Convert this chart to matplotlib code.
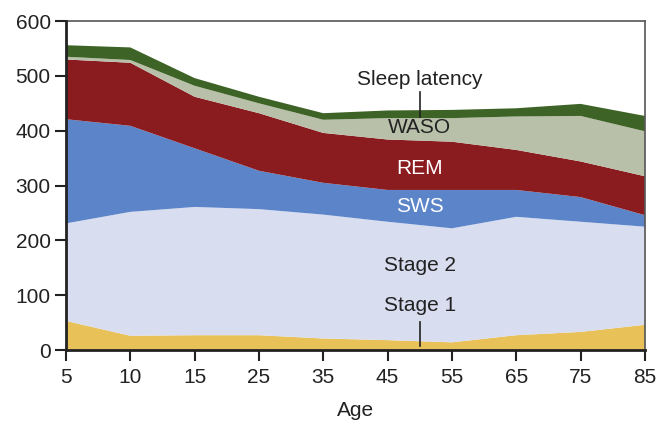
import matplotlib
matplotlib.use("Agg")
import matplotlib.pyplot as plt
import numpy as np

plt.rcParams['font.family'] = ['Liberation Sans', 'DejaVu Sans']

ages = ["5", "10", "15", "25", "35", "45", "55", "65", "75", "85"]

# Minutes spent in each stage (stacked from bottom to top)
stage1 = [53, 26, 27, 27, 21, 18, 14, 27, 33, 46]
stage2 = [178, 226, 234, 230, 226, 216, 208, 216, 201, 179]
sws = [190, 157, 107, 70, 58, 58, 70, 49, 45, 21]
rem = [109, 115, 94, 105, 91, 92, 88, 73, 65, 71]
waso = [5, 5, 20, 18, 24, 39, 43, 61, 83, 82]
latency = [21, 23, 14, 12, 12, 14, 15, 15, 22, 28]

layers = [stage1, stage2, sws, rem, waso, latency]
colors = ["#E8C158", "#D8DDEF", "#5B84C9", "#8A1B1F", "#B9C0A9", "#3E6326"]

fig = plt.figure(figsize=(6.58, 4.22), dpi=100)
ax = fig.add_axes([0.1003, 0.1706, 0.8797, 0.7794])

x = np.arange(len(ages))
ax.stackplot(x, *layers, colors=colors, linewidth=0)

FS = 15
ax.set_xlim(0, len(ages) - 1)
ax.set_ylim(0, 600)
ax.set_xticks(x)
ax.set_xticklabels(ages)
ax.set_yticks(range(0, 601, 100))
ax.tick_params(axis='both', direction='out', length=8, width=1.5,
               labelsize=FS, colors='#222222')
ax.tick_params(axis='x', pad=5)
ax.tick_params(axis='y', pad=3)
ax.set_xlabel("Age", fontsize=FS, color='#222222', labelpad=10)

for side in ['left', 'bottom']:
    ax.spines[side].set_linewidth(2.0)
    ax.spines[side].set_color('#222222')
for side in ['top', 'right']:
    ax.spines[side].set_linewidth(1.2)
    ax.spines[side].set_color('#555555')
ax.spines['left'].set_zorder(5)
ax.spines['bottom'].set_zorder(5)

# Layer labels
lx = 5.5
cum = np.cumsum(layers, axis=0)
lat_mid = (cum[4][5] + cum[4][6]) / 2
ax.text(lx, 493, "Sleep latency", ha='center', va='center', fontsize=FS, color='#222222')
ax.plot([lx, lx], [470, lat_mid + 2], color='#222222', lw=1.2)
ax.text(lx, 405, "WASO", ha='center', va='center', fontsize=FS, color='#222222')
ax.text(lx, 332, "REM", ha='center', va='center', fontsize=FS, color='white')
ax.text(lx, 261, "SWS", ha='center', va='center', fontsize=FS, color='white')
ax.text(lx, 155, "Stage 2", ha='center', va='center', fontsize=FS, color='#222222')
ax.text(lx, 82, "Stage 1", ha='center', va='center', fontsize=FS, color='#222222')
ax.plot([lx, lx], [51, 8], color='#222222', lw=1.2)

fig.savefig("out.png", dpi=100)
